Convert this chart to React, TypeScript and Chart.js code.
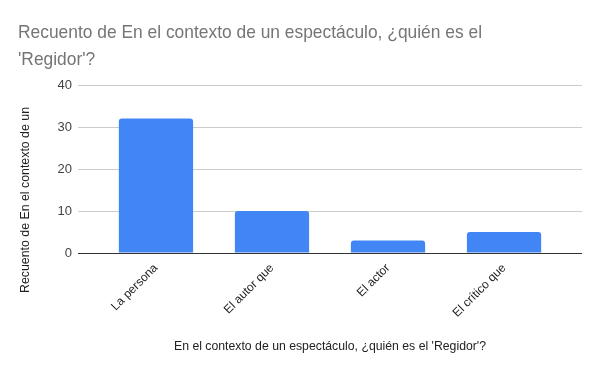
import React, { useEffect, useRef } from "react";
import { Chart, registerables } from "chart.js";

Chart.register(...registerables);

const categories = ["La persona", "El autor que", "El actor", "El crítico que"];
const counts = [32, 10, 3, 5];
const yTicks = [0, 10, 20, 30, 40];
const titleLines = ["Recuento de En el contexto de un espectáculo, ¿quién es el", "'Regidor'?"];
const xTitle = "En el contexto de un espectáculo, ¿quién es el 'Regidor'?";
const yTitle = "Recuento de En el contexto de un";

const FONT = "Arial, 'Liberation Sans', sans-serif";

const textPlugin = {
  id: "customText",
  afterDraw(chart: any) {
    const ctx = chart.ctx as CanvasRenderingContext2D;
    const area = chart.chartArea;
    ctx.save();
    ctx.fillStyle = "#757575";
    ctx.font = `19px ${FONT}`;
    ctx.textAlign = "left";
    ctx.textBaseline = "alphabetic";
    ctx.fillText(titleLines[0], 18, 38, 464);
    const w1 = ctx.measureText(titleLines[0]).width;
    const s = Math.min(1, 464 / w1);
    const w2 = ctx.measureText(titleLines[1]).width;
    ctx.fillText(titleLines[1], 18, 65, w2 * s);

    ctx.fillStyle = "#222222";
    ctx.font = `13px ${FONT}`;
    ctx.textAlign = "center";
    ctx.textBaseline = "middle";
    ctx.fillText(xTitle, (area.left + area.right) / 2, 346, 312);

    ctx.translate(25, 200);
    ctx.rotate(-Math.PI / 2);
    ctx.fillText(yTitle, 0, 0, 186);
    ctx.restore();
  },
};

export default function App() {
  const ref = useRef<HTMLCanvasElement>(null);
  useEffect(() => {
    document.body.style.margin = "0";
    const chart = new Chart(ref.current!, {
      type: "bar",
      data: {
        datasets: [
          {
            data: counts.map((v, i) => ({ x: i, y: v })),
            backgroundColor: "#4285F4",
            borderRadius: { topLeft: 3, topRight: 3, bottomLeft: 0, bottomRight: 0 },
            borderSkipped: false,
            categoryPercentage: 0.64,
            barPercentage: 1,
          },
        ],
      },
      options: {
        animation: false,
        responsive: false,
        devicePixelRatio: 1,
        layout: { padding: { top: 85, right: 18, left: 0, bottom: 0 } },
        plugins: { legend: { display: false }, tooltip: { enabled: false }, title: { display: false } },
        scales: {
          y: {
            min: 0,
            max: 40,
            afterFit(scale: any) {
              scale.width = 78;
            },
            afterBuildTicks(scale: any) {
              scale.ticks = yTicks.map((v) => ({ value: v }));
            },
            border: { display: false },
            grid: {
              drawTicks: false,
              color: (c: any) => (c.tick && c.tick.value === 0 ? "#333333" : "#cccccc"),
              lineWidth: 1,
            },
            ticks: {
              padding: 6,
              color: "#444444",
              font: { family: FONT, size: 13 },
            },
          },
          x: {
            type: "linear",
            min: -0.672,
            max: categories.length - 1 + 0.672,
            offset: false,
            afterFit(scale: any) {
              scale.height = 118;
            },
            afterBuildTicks(scale: any) {
              scale.ticks = categories.map((_, i) => ({ value: i }));
            },
            border: { display: false },
            grid: { display: false, drawTicks: false },
            ticks: {
              minRotation: 45,
              maxRotation: 45,
              padding: 8,
              color: "#222222",
              font: { family: FONT, size: 12 },
              callback: (v: any) => categories[Math.round(Number(v))] ?? "",
            },
          },
        },
      },
      plugins: [textPlugin],
    });
    return () => chart.destroy();
  }, []);
  return <canvas ref={ref} width={600} height={371} style={{ display: "block" }} />;
}
